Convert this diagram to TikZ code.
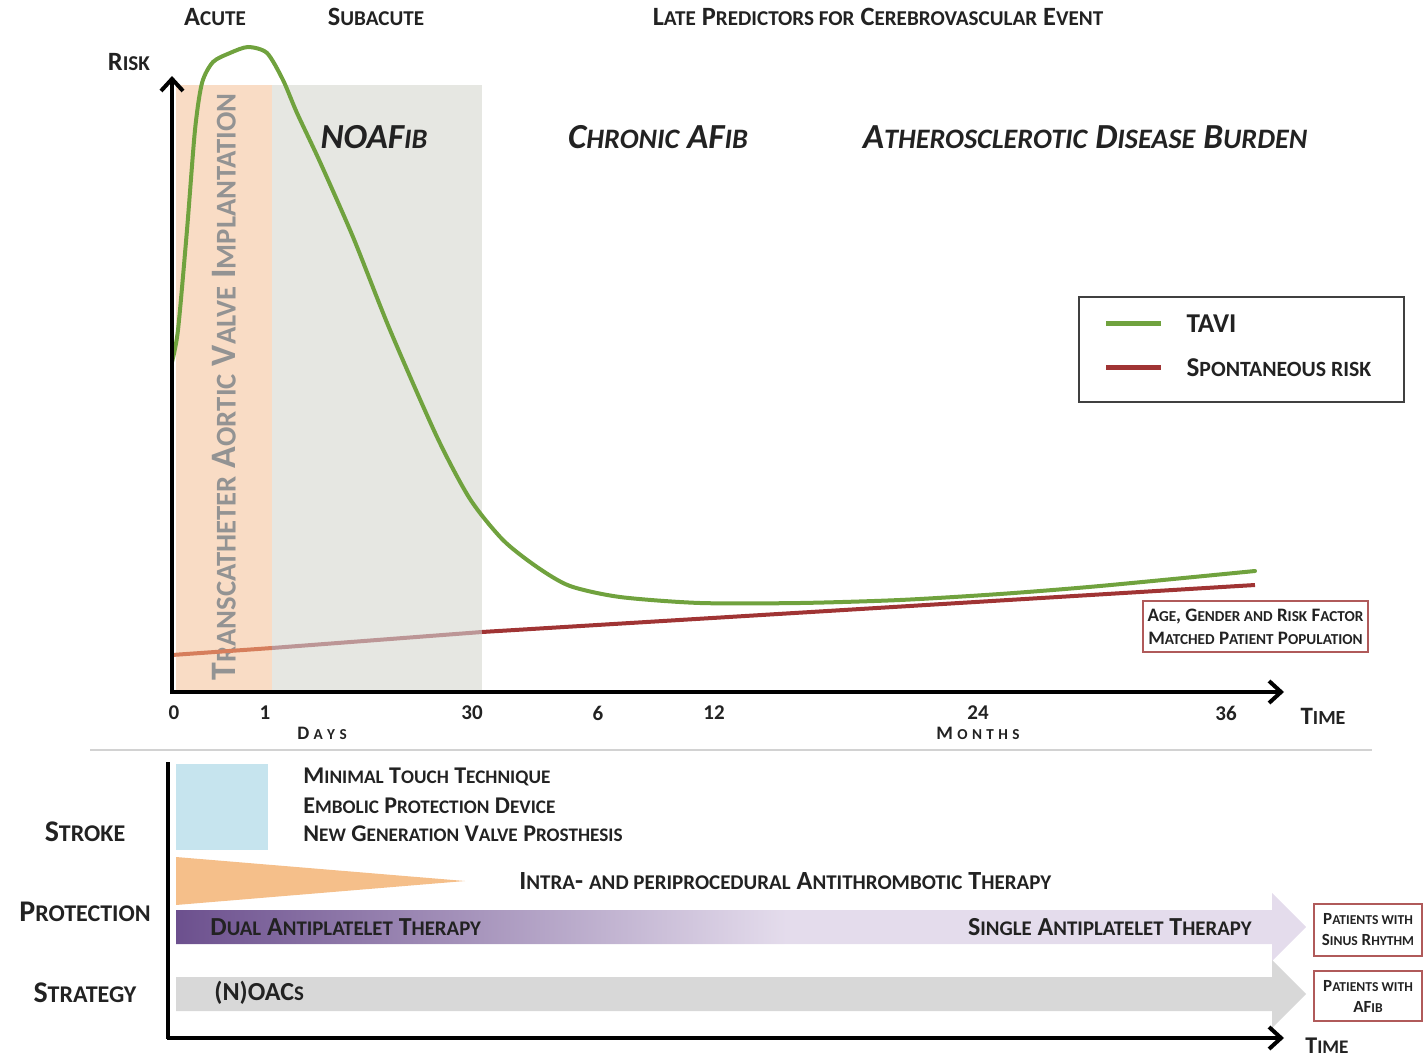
\documentclass[tikz,border=0pt]{standalone}
\usepackage{fontspec}
\setmainfont{Carlito}
\usetikzlibrary{arrows.meta,positioning,calc}
\makeatletter
\newcommand\lc[1]{{\fontsize{\the\dimexpr\f@size pt*4/5\relax}{0pt}\selectfont #1}}
\makeatother
\newcommand\spaced[1]{\hspace{2.2pt}#1}
\definecolor{tavigreen}{RGB}{112,162,62}
\definecolor{sponred}{RGB}{160,52,52}
\definecolor{sponorange}{RGB}{214,126,92}
\definecolor{sponpink}{RGB}{188,150,150}
\definecolor{bandorange}{RGB}{249,220,197}
\definecolor{bandgray}{RGB}{230,231,226}
\definecolor{devblue}{RGB}{198,228,238}
\definecolor{periorange}{RGB}{245,191,138}
\definecolor{dapdark}{RGB}{108,80,142}
\definecolor{daplight}{RGB}{228,220,236}
\definecolor{oacgray}{RGB}{216,216,216}
\definecolor{boxred}{RGB}{176,90,90}
\definecolor{txtdark}{RGB}{34,34,34}
\pgfdeclarehorizontalshading{dapt}{100bp}{color(0bp)=(dapdark); color(25bp)=(dapdark); color(52bp)=(daplight); color(100bp)=(daplight)}

\begin{document}
\begin{tikzpicture}[x=0.5pt,y=-0.5pt,
	lbl/.style={inner sep=0pt,text=txtdark,font=\fontsize{13.2}{15}\selectfont\bfseries},
	big/.style={inner sep=0pt,text=txtdark,font=\fontsize{17.6}{20}\selectfont\bfseries\itshape},
	tick/.style={inner sep=0pt,text=txtdark,font=\fontsize{10.5}{12}\selectfont\bfseries},
	unit/.style={inner sep=0pt,text=txtdark,font=\fontsize{9.5}{11}\selectfont\bfseries},
	side/.style={inner sep=0pt,text=txtdark,font=\fontsize{15}{18}\selectfont\bfseries},
	item/.style={inner sep=0pt,anchor=west,text=txtdark,font=\fontsize{12}{14}\selectfont\bfseries},
	redbox/.style={draw=boxred,line width=0.8pt,align=center,inner sep=0pt,text=txtdark},
	axis/.style={line width=2pt,-{Straight Barb[length=6pt,width=11pt,line width=2pt]}},
	]
	\useasboundingbox (0,0) rectangle (1426,1060);
	%
	\fill[bandorange] (176,85) rectangle (272,690);
	\fill[bandgray] (272,85) rectangle (482,690);
	\node[rotate=90,inner sep=0pt,text=gray!85,font=\fontsize{17.9}{20}\selectfont\bfseries] (tavitxt) at (224,387)
		{T\lc{RANSCATHETER} A\lc{ORTIC} V\lc{ALVE} I\lc{MPLANTATION}};
	%
	\node[lbl] (acute) at (215,17) {A\lc{CUTE}};
	\node[lbl] (subacute) at (376,17) {S\lc{UBACUTE}};
	\node[lbl] (late) at (878,17) {L\lc{ATE} P\lc{REDICTORS FOR} C\lc{EREBROVASCULAR} E\lc{VENT}};
	\node[lbl] (risk) at (129,62) {R\lc{ISK}};
	\node[big] (noafib) at (374,137) {NOAF\lc{IB}};
	\node[big] (chronic) at (658,137) {C\lc{HRONIC} AF\lc{IB}};
	\node[big] (athero) at (1085,137) {A\lc{THEROSCLEROTIC} D\lc{ISEASE} B\lc{URDEN}};
	%
	\draw[tavigreen,line width=2pt,line cap=round] plot[smooth,tension=0.45] coordinates {
		(172,362) (178,330) (187,230) (195,130) (202,83) (213,62) (230,53) (248,47) (267,53)
		(283,80) (297,113) (320,162) (353,237) (390,330) (437,437) (470,499)
		(503,540) (537,567) (570,586) (620,597) (700,603) (800,603) (900,600) (1000,594)
		(1100,586) (1255,571)};
	\coordinate (r0) at (172,655);
	\coordinate (r1) at (272,648);
	\coordinate (r2) at (482,632);
	\coordinate (r3) at (1255,585);
	\draw[sponorange,line width=2pt] (r0) -- (r1);
	\draw[sponpink,line width=2pt] (r1) -- (r2);
	\draw[sponred,line width=2pt] (r2) -- (r3);
	%
	\coordinate (O) at (172,692);
	\draw[axis] ($(O)+(0,2)$) -- (172,76);
	\draw[axis] ($(O)+(-2,0)$) -- (1284,692);
	%
	\node[draw=black!75,line width=0.8pt,minimum width=162.5pt,minimum height=52.5pt] (legend) at (1241.5,349.5) {};
	\draw[tavigreen,line width=2.5pt] ($(legend.north west)+(28,27)$) coordinate (lg1) -- ++(55,0);
	\draw[sponred,line width=2.5pt] ($(legend.north west)+(28,71)$) coordinate (lg2) -- ++(55,0);
	\node[inner sep=0pt,anchor=west,text=txtdark,font=\fontsize{13.6}{16}\selectfont\bfseries] (tavi) at ($(lg1)+(80,0)$) {TAVI};
	\node[inner sep=0pt,anchor=west,text=txtdark,font=\fontsize{13.6}{16}\selectfont\bfseries] (spon) at ($(lg2)+(80,0)$) {S\lc{PONTANEOUS RISK}};
	%
	\node[redbox,minimum width=112.5pt,minimum height=25.5pt,font=\fontsize{9.5}{11.5}\selectfont\bfseries] (matched) at (1255.5,626.5)
		{A\lc{GE}, G\lc{ENDER AND} R\lc{ISK} F\lc{ACTOR}\\M\lc{ATCHED} P\lc{ATIENT} P\lc{OPULATION}};
	%
	\node[tick] (t0) at (174,713) {0};
	\node[tick] (t1) at (265,713) {1};
	\node[tick] (t30) at (472,713) {30};
	\node[tick] (t6) at (598,713) {6};
	\node[tick] (t12) at (714,713) {12};
	\node[tick] (t24) at (978,713) {24};
	\node[tick] (t36) at (1226,713) {36};
	\node[unit] (days) at (322,733) {D\lc{\spaced{A}\spaced{Y}\spaced{S}}};
	\node[unit] (months) at (978,733) {M\lc{\spaced{O}\spaced{N}\spaced{T}\spaced{H}\spaced{S}}};
	\node[inner sep=0pt,text=txtdark,font=\fontsize{12.5}{14}\selectfont\bfseries] (time1) at (1323,716) {T\lc{IME}};
	%
	\draw[gray!35,line width=1pt] (90,750) -- (1372,750);
	%
	\fill[devblue] (176,764) rectangle (268,850);
	\node[item] (mtt) at (303,777) {M\lc{INIMAL} T\lc{OUCH} T\lc{ECHNIQUE}};
	\node[item] (epd) at (303,806) {E\lc{MBOLIC} P\lc{ROTECTION} D\lc{EVICE}};
	\node[item] (ngv) at (303,834) {N\lc{EW} G\lc{ENERATION} V\lc{ALVE} P\lc{ROSTHESIS}};
	\fill[periorange] (176,857) -- (176,905) -- (465,881) -- cycle;
	\node[item,font=\fontsize{13.1}{15}\selectfont\bfseries] (intra) at (519,881) {I\lc{NTRA}- \lc{AND PERIPROCEDURAL} A\lc{NTITHROMBOTIC} T\lc{HERAPY}};
	%
	\shade[shading=dapt] (176,910) -- (1272,910) -- (1272,893) -- (1306,927) -- (1272,961) -- (1272,944) -- (176,944) -- cycle;
	\fill[oacgray] (176,977) -- (1272,977) -- (1272,960) -- (1306,994) -- (1272,1028) -- (1272,1011) -- (176,1011) -- cycle;
	\node[item,font=\fontsize{13}{15}\selectfont\bfseries] (dapt) at (210,927) {D\lc{UAL} A\lc{NTIPLATELET} T\lc{HERAPY}};
	\node[item,anchor=east,font=\fontsize{13}{15}\selectfont\bfseries] (sapt) at (1252,927) {S\lc{INGLE} A\lc{NTIPLATELET} T\lc{HERAPY}};
	\node[item,font=\fontsize{13}{15}\selectfont\bfseries] (noac) at (214,993) {(N)OAC\lc{S}};
	%
	\node[redbox,minimum width=54pt,minimum height=26pt,font=\fontsize{8.5}{10.5}\selectfont\bfseries] (sinus) at (1368,930)
		{P\lc{ATIENTS WITH}\\S\lc{INUS} R\lc{HYTHM}};
	\node[redbox,minimum width=54pt,minimum height=25pt,font=\fontsize{8.5}{10.5}\selectfont\bfseries] (afib) at (1368,996)
		{P\lc{ATIENTS WITH}\\AF\lc{IB}};
	%
	\node[side] (stroke) at (85,832) {S\lc{TROKE}};
	\node[side] (protection) at (85,912) {P\lc{ROTECTION}};
	\node[side] (strategy) at (85,993) {S\lc{TRATEGY}};
	%
	\coordinate (O2) at (168,1038);
	\draw[line width=2pt] (168,762) -- ($(O2)+(0,1)$);
	\draw[axis] ($(O2)+(-1,0)$) -- (1284,1038);
	\node[inner sep=0pt,text=txtdark,font=\fontsize{12}{14}\selectfont\bfseries] (time2) at (1327,1046) {T\lc{IME}};
\end{tikzpicture}
\end{document}
